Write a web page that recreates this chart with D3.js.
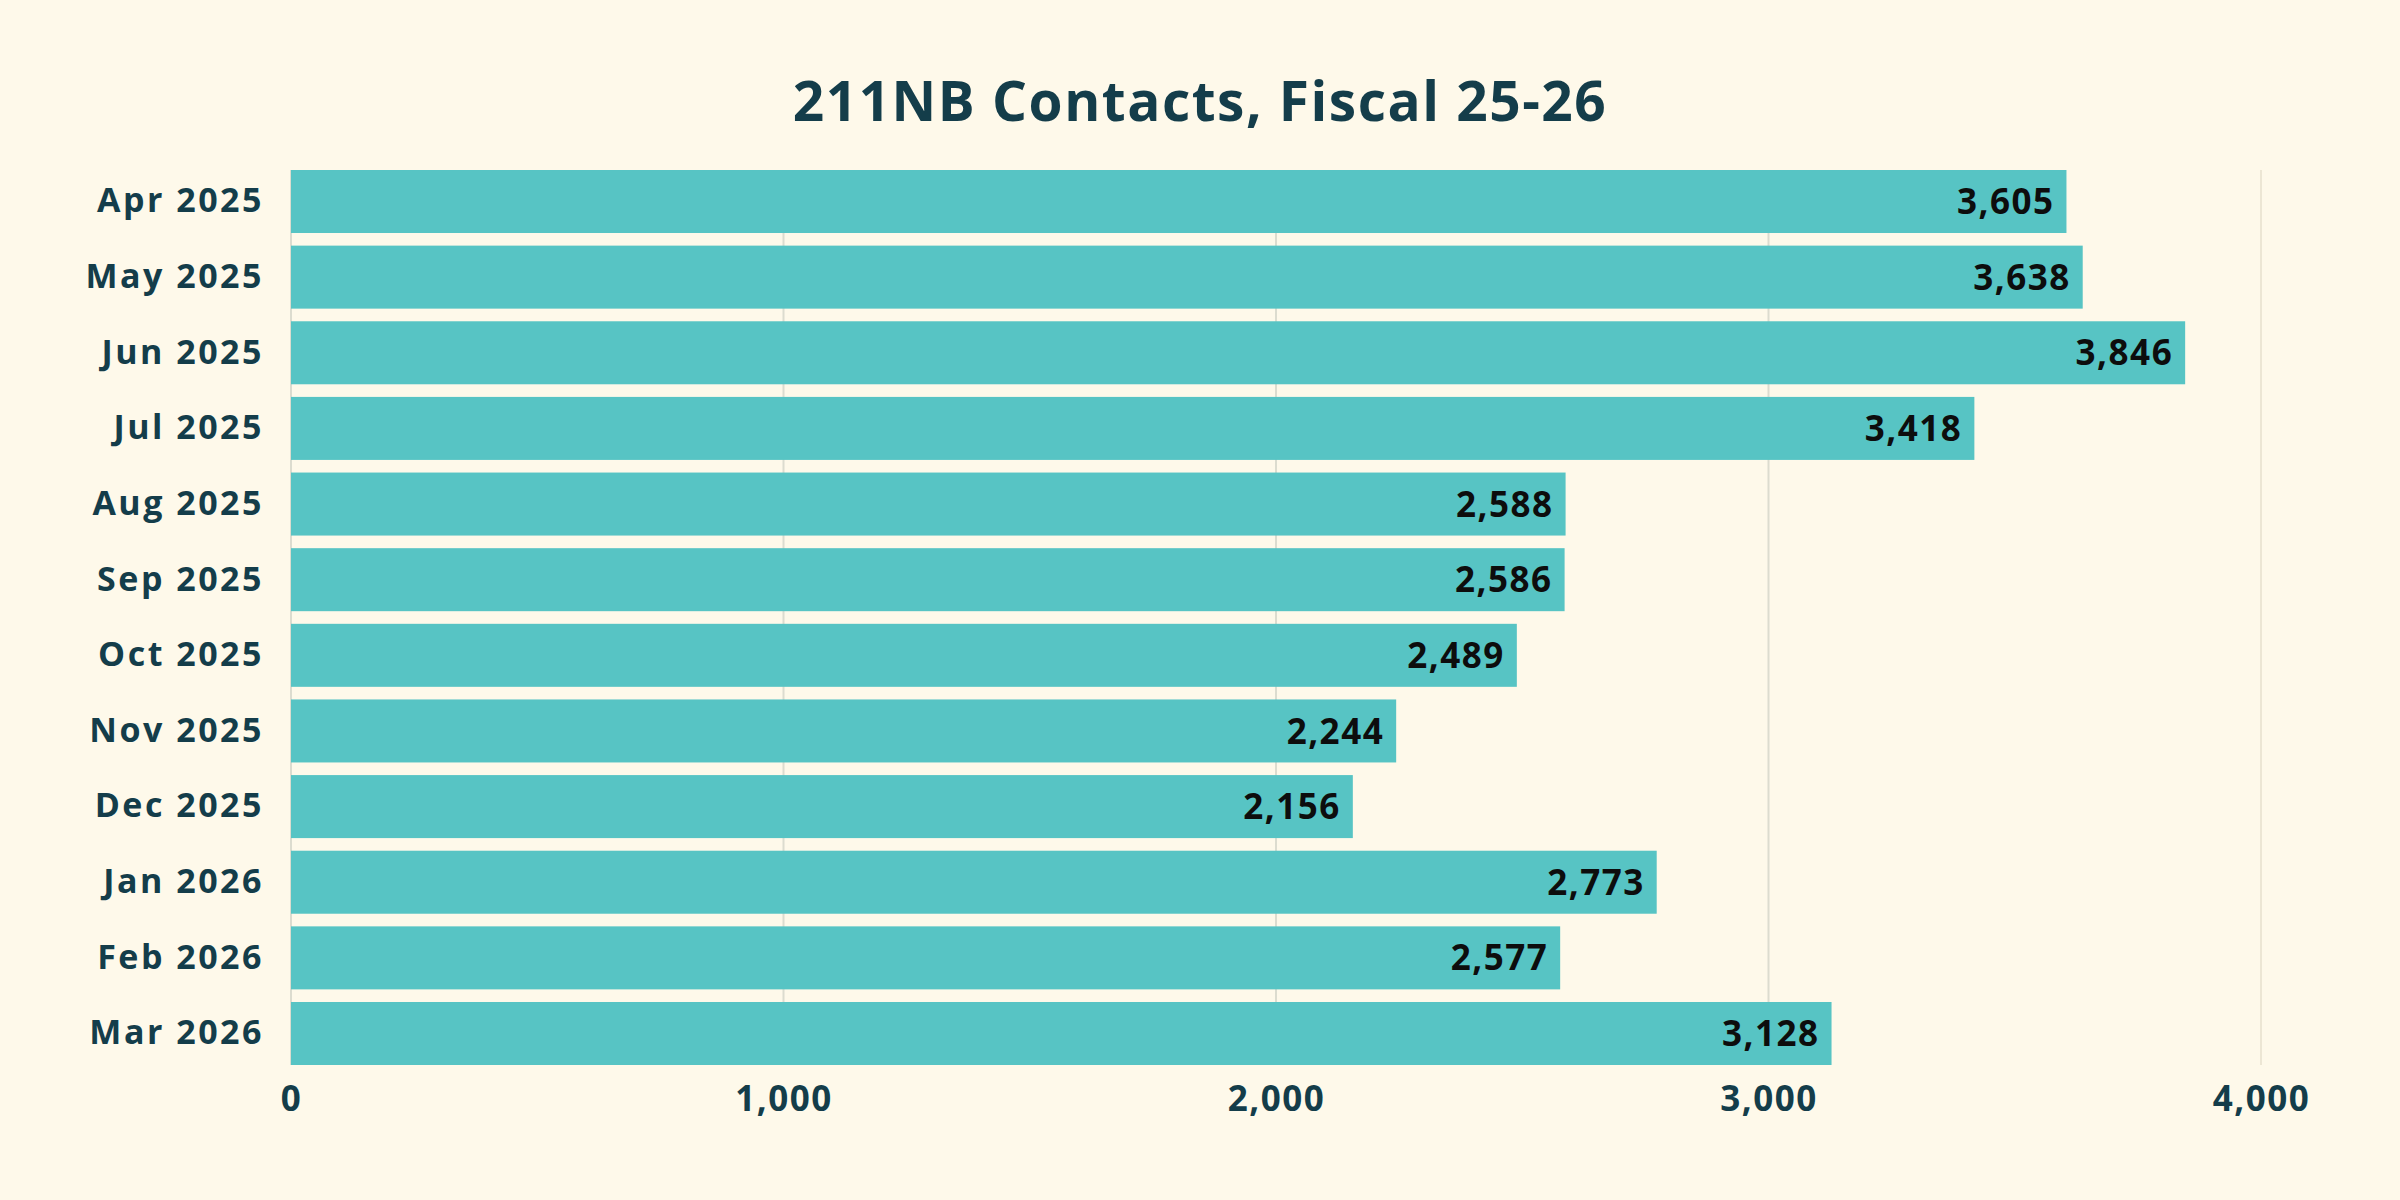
<!DOCTYPE html>
<html>
<head>
<meta charset="utf-8">
<script src="https://cdn.jsdelivr.net/npm/d3@7"></script>
<style>
  html, body { margin: 0; padding: 0; background: #fef9ea; }
  svg { display: block; font-family: "Open Sans", "Noto Sans", sans-serif; }
</style>
</head>
<body>
<div class="chart"></div>
<script>
// data
const months = ["Apr 2025", "May 2025", "Jun 2025", "Jul 2025", "Aug 2025", "Sep 2025",
  "Oct 2025", "Nov 2025", "Dec 2025", "Jan 2026", "Feb 2026", "Mar 2026"];
const contacts = [3605, 3638, 3846, 3418, 2588, 2586, 2489, 2244, 2156, 2773, 2577, 3128];
const xTicks = [0, 1000, 2000, 3000, 4000];
const title = "211NB Contacts, Fiscal 25-26";

const data = months.map((m, i) => ({ month: m, value: contacts[i] }));

const width = 2400;
const height = 1200;
const margin = { top: 170, bottom: 135, left: 291, right: 139 };

const ink = "#143d4a";

const svg = d3.select(".chart")
  .append("svg")
  .attr("width", width)
  .attr("height", height)
  .attr("viewBox", `0 0 ${width} ${height}`);

svg.append("rect")
  .attr("width", width)
  .attr("height", height)
  .attr("fill", "#fef9ea");

const x = d3.scaleLinear()
  .domain([0, 4000])
  .range([margin.left, width - margin.right]);

const y = d3.scaleBand()
  .domain(months)
  .range([margin.top, height - margin.bottom])
  .paddingInner(0.167)
  .paddingOuter(0);

// gridlines
svg.append("g")
  .selectAll("line")
  .data(xTicks)
  .join("line")
  .attr("x1", d => x(d))
  .attr("x2", d => x(d))
  .attr("y1", margin.top)
  .attr("y2", height - margin.bottom)
  .attr("stroke", (d, i) => i === xTicks.length - 1 ? "#ece6d4" : "#dcdccf")
  .attr("stroke-width", 2);

// bars
svg.append("g")
  .attr("fill", "#57c4c4")
  .selectAll("rect")
  .data(data)
  .join("rect")
  .attr("x", x(0))
  .attr("y", d => y(d.month))
  .attr("width", d => x(d.value) - x(0))
  .attr("height", y.bandwidth());

// value labels
svg.append("g")
  .selectAll("text")
  .data(data)
  .join("text")
  .attr("x", d => x(d.value) - 12)
  .attr("y", d => y(d.month) + y.bandwidth() / 2)
  .attr("dy", "0.36em")
  .attr("text-anchor", "end")
  .attr("font-size", "35px")
  .attr("font-weight", 700)
  .attr("letter-spacing", "1.5px")
  .attr("fill", "#0d0d0d")
  .text(d => d3.format(",")(d.value));

// axes
const xAxis = g => {
  g.attr("transform", `translate(0,${height - margin.bottom})`)
  .call(d3.axisBottom(x).tickValues(xTicks).tickFormat(d3.format(",")).tickSize(0).tickPadding(21))
  .call(g => g.select(".domain").remove())
  .attr("font-size", "35px")
  .attr("font-weight", 700)
  .attr("font-family", null);
  g.selectAll("text").attr("fill", ink).attr("letter-spacing", "1.5px");
};

const yAxis = g => {
  g.attr("transform", `translate(${margin.left}, 0)`)
  .call(d3.axisLeft(y).tickSize(0).tickPadding(27))
  .call(g => g.select(".domain").remove())
  .attr("font-size", "34px")
  .attr("font-weight", 700)
  .attr("font-family", null);
  g.selectAll("text").attr("fill", ink).attr("letter-spacing", "2.5px");
};

svg.append("g").call(xAxis);
svg.append("g").call(yAxis);

// title
svg.append("text")
  .attr("x", width / 2)
  .attr("y", 121)
  .attr("text-anchor", "middle")
  .attr("font-size", "55px")
  .attr("font-weight", 700)
  .attr("letter-spacing", "1.5px")
  .attr("fill", ink)
  .text(title);
</script>
</body>
</html>
